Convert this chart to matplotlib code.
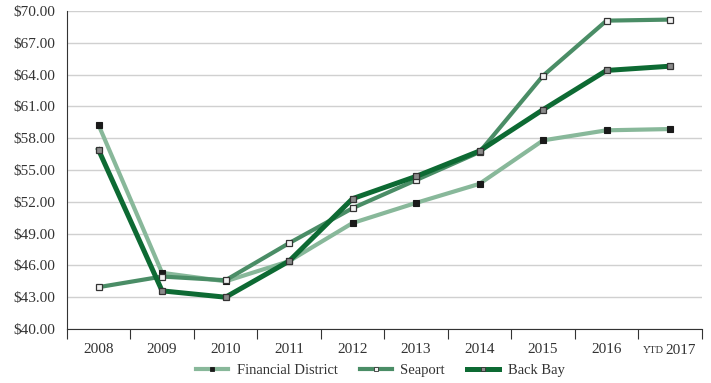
import matplotlib
matplotlib.use("Agg")
from matplotlib import pyplot as plt
from matplotlib.transforms import blended_transform_factory

plt.rcParams['font.family'] = ['Liberation Serif', 'DejaVu Serif']

years = ["2008", "2009", "2010", "2011", "2012", "2013", "2014", "2015", "2016", "2017"]
financial = [59.25, 45.3, 44.5, 46.4, 50.0, 51.9, 53.7, 57.8, 58.75, 58.87]
seaport = [43.95, 44.95, 44.6, 48.1, 51.4, 54.05, 56.7, 63.9, 69.1, 69.2]
backbay = [56.9, 43.6, 43.0, 46.4, 52.3, 54.4, 56.8, 60.7, 64.4, 64.8]

fig = plt.figure(figsize=(7.11, 3.83), dpi=100)
ax = fig.add_axes([0.094, 0.141, 0.893, 0.830])

x = list(range(len(years)))
ax.plot(x, financial, color="#88b89a", lw=3.0, marker="s", ms=5,
        mfc="#1a1a1a", mec="#1a1a1a", mew=0.8, label="Financial District", zorder=3)
ax.plot(x, seaport, color="#4a8d66", lw=3.0, marker="s", ms=5,
        mfc="#f2f2f2", mec="#333333", mew=0.9, label="Seaport", zorder=4)
ax.plot(x, backbay, color="#0d6a33", lw=3.6, marker="s", ms=5,
        mfc="#8a8a8a", mec="#333333", mew=0.9, label="Back Bay", zorder=5)

ax.set_ylim(40, 70)
ax.set_xlim(-0.5, 9.5)
yt = [40 + 3 * i for i in range(11)]
ax.set_yticks(yt)
ax.set_yticklabels(["${:.2f}".format(v) for v in yt], fontsize=11, color="#333333")
ax.tick_params(axis="y", length=0, pad=8)
ax.grid(axis="y", color="#d0d0d0", lw=1.0)
ax.set_axisbelow(True)

ax.set_xticks([i - 0.5 for i in range(11)])
ax.set_xticklabels([])
ax.set_xticks(x, minor=True)
ax.set_xticklabels(years[:-1] + [""], minor=True, fontsize=11, color="#333333")
ax.tick_params(axis="x", which="major", length=7, color="#333333", width=0.8)
ax.tick_params(axis="x", which="minor", length=0, pad=10)

tr = blended_transform_factory(ax.transData, ax.transAxes)
ax.text(8.93, -0.046, "2017", transform=tr, ha="left", va="top", fontsize=11, color="#333333")
ax.text(8.9, -0.053, "YTD", transform=tr, ha="right", va="top", fontsize=7.5, color="#333333")

for s in ["top", "right"]:
    ax.spines[s].set_visible(False)
ax.spines["left"].set_color("#333333")
ax.spines["bottom"].set_color("#333333")

leg = fig.legend(loc="lower center", bbox_to_anchor=(0.535, -0.018), ncol=3, frameon=False,
                 fontsize=10.5, handlelength=2.2, handletextpad=0.6, columnspacing=1.5,
                 labelcolor="#333333")
for h in leg.legend_handles:
    h.set_markersize(2.5)
    h.set_markeredgewidth(0.6)

fig.savefig("out.png", dpi=100)
